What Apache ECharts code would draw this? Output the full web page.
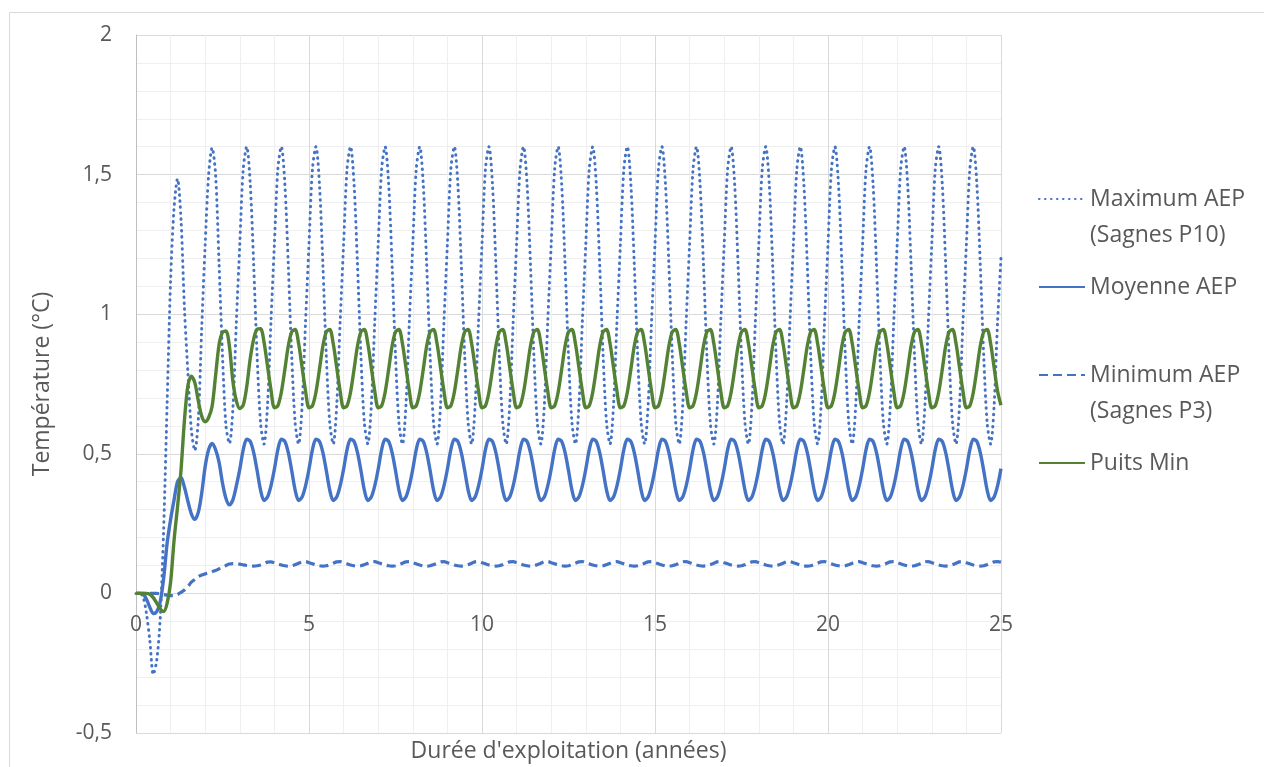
<!DOCTYPE html>
<html><head><meta charset="utf-8">
<script src="https://cdn.jsdelivr.net/npm/echarts@6/dist/echarts.min.js"></script>
<style>html,body{margin:0;padding:0;background:#fff}#c{width:1264px;height:767px}</style>
</head><body><div id="c"></div>
<script>
// Time (years), sampled every 0.1 year
const years = [
0,0.1,0.2,0.3,0.4,0.5,0.6,0.7,0.8,0.9,
1,1.1,1.2,1.3,1.4,1.5,1.6,1.7,1.8,1.9,
2,2.1,2.2,2.3,2.4,2.5,2.6,2.7,2.8,2.9,
3,3.1,3.2,3.3,3.4,3.5,3.6,3.7,3.8,3.9,
4,4.1,4.2,4.3,4.4,4.5,4.6,4.7,4.8,4.9,
5,5.1,5.2,5.3,5.4,5.5,5.6,5.7,5.8,5.9,
6,6.1,6.2,6.3,6.4,6.5,6.6,6.7,6.8,6.9,
7,7.1,7.2,7.3,7.4,7.5,7.6,7.7,7.8,7.9,
8,8.1,8.2,8.3,8.4,8.5,8.6,8.7,8.8,8.9,
9,9.1,9.2,9.3,9.4,9.5,9.6,9.7,9.8,9.9,
10,10.1,10.2,10.3,10.4,10.5,10.6,10.7,10.8,10.9,
11,11.1,11.2,11.3,11.4,11.5,11.6,11.7,11.8,11.9,
12,12.1,12.2,12.3,12.4,12.5,12.6,12.7,12.8,12.9,
13,13.1,13.2,13.3,13.4,13.5,13.6,13.7,13.8,13.9,
14,14.1,14.2,14.3,14.4,14.5,14.6,14.7,14.8,14.9,
15,15.1,15.2,15.3,15.4,15.5,15.6,15.7,15.8,15.9,
16,16.1,16.2,16.3,16.4,16.5,16.6,16.7,16.8,16.9,
17,17.1,17.2,17.3,17.4,17.5,17.6,17.7,17.8,17.9,
18,18.1,18.2,18.3,18.4,18.5,18.6,18.7,18.8,18.9,
19,19.1,19.2,19.3,19.4,19.5,19.6,19.7,19.8,19.9,
20,20.1,20.2,20.3,20.4,20.5,20.6,20.7,20.8,20.9,
21,21.1,21.2,21.3,21.4,21.5,21.6,21.7,21.8,21.9,
22,22.1,22.2,22.3,22.4,22.5,22.6,22.7,22.8,22.9,
23,23.1,23.2,23.3,23.4,23.5,23.6,23.7,23.8,23.9,
24,24.1,24.2,24.3,24.4,24.5,24.6,24.7,24.8,24.9,
25];

// Maximum AEP (Sagnes P10)
const maxAEP = [
0,0,-0.01,-0.07,-0.17,-0.29,-0.24,-0.09,0.23,0.68,
1.12,1.38,1.485,1.34,1.02,0.79,0.585,0.512,0.62,0.95,
1.25,1.5,1.596,1.5,1.18,0.85,0.6,0.537,0.66,0.97,
1.25,1.52,1.6,1.47,1.18,0.85,0.61,0.535,0.67,0.97,
1.25,1.52,1.6,1.47,1.18,0.85,0.61,0.535,0.67,0.97,
1.25,1.52,1.6,1.47,1.18,0.85,0.61,0.535,0.67,0.97,
1.25,1.52,1.6,1.47,1.18,0.85,0.61,0.535,0.67,0.97,
1.25,1.52,1.6,1.47,1.18,0.85,0.61,0.535,0.67,0.97,
1.25,1.52,1.6,1.47,1.18,0.85,0.61,0.535,0.67,0.97,
1.25,1.52,1.6,1.47,1.18,0.85,0.61,0.535,0.67,0.97,
1.25,1.52,1.6,1.47,1.18,0.85,0.61,0.535,0.67,0.97,
1.25,1.52,1.6,1.47,1.18,0.85,0.61,0.535,0.67,0.97,
1.25,1.52,1.6,1.47,1.18,0.85,0.61,0.535,0.67,0.97,
1.25,1.52,1.6,1.47,1.18,0.85,0.61,0.535,0.67,0.97,
1.25,1.52,1.6,1.47,1.18,0.85,0.61,0.535,0.67,0.97,
1.25,1.52,1.6,1.47,1.18,0.85,0.61,0.535,0.67,0.97,
1.25,1.52,1.6,1.47,1.18,0.85,0.61,0.535,0.67,0.97,
1.25,1.52,1.6,1.47,1.18,0.85,0.61,0.535,0.67,0.97,
1.25,1.52,1.6,1.47,1.18,0.85,0.61,0.535,0.67,0.97,
1.25,1.52,1.6,1.47,1.18,0.85,0.61,0.535,0.67,0.97,
1.25,1.52,1.6,1.47,1.18,0.85,0.61,0.535,0.67,0.97,
1.25,1.52,1.6,1.47,1.18,0.85,0.61,0.535,0.67,0.97,
1.25,1.52,1.6,1.47,1.18,0.85,0.61,0.535,0.67,0.97,
1.25,1.52,1.6,1.47,1.18,0.85,0.61,0.535,0.67,0.97,
1.25,1.52,1.6,1.47,1.18,0.85,0.61,0.535,0.67,0.97,
1.2];

// Moyenne AEP
const moyAEP = [
0,0,-0.002,-0.02,-0.05,-0.072,-0.065,-0.03,0.055,0.18,
0.265,0.335,0.4,0.415,0.38,0.33,0.285,0.265,0.29,0.36,
0.455,0.515,0.537,0.515,0.47,0.395,0.34,0.317,0.335,0.385,
0.445,0.515,0.552,0.545,0.505,0.44,0.37,0.333,0.345,0.385,
0.445,0.515,0.552,0.545,0.505,0.44,0.37,0.333,0.345,0.385,
0.445,0.515,0.552,0.545,0.505,0.44,0.37,0.333,0.345,0.385,
0.445,0.515,0.552,0.545,0.505,0.44,0.37,0.333,0.345,0.385,
0.445,0.515,0.552,0.545,0.505,0.44,0.37,0.333,0.345,0.385,
0.445,0.515,0.552,0.545,0.505,0.44,0.37,0.333,0.345,0.385,
0.445,0.515,0.552,0.545,0.505,0.44,0.37,0.333,0.345,0.385,
0.445,0.515,0.552,0.545,0.505,0.44,0.37,0.333,0.345,0.385,
0.445,0.515,0.552,0.545,0.505,0.44,0.37,0.333,0.345,0.385,
0.445,0.515,0.552,0.545,0.505,0.44,0.37,0.333,0.345,0.385,
0.445,0.515,0.552,0.545,0.505,0.44,0.37,0.333,0.345,0.385,
0.445,0.515,0.552,0.545,0.505,0.44,0.37,0.333,0.345,0.385,
0.445,0.515,0.552,0.545,0.505,0.44,0.37,0.333,0.345,0.385,
0.445,0.515,0.552,0.545,0.505,0.44,0.37,0.333,0.345,0.385,
0.445,0.515,0.552,0.545,0.505,0.44,0.37,0.333,0.345,0.385,
0.445,0.515,0.552,0.545,0.505,0.44,0.37,0.333,0.345,0.385,
0.445,0.515,0.552,0.545,0.505,0.44,0.37,0.333,0.345,0.385,
0.445,0.515,0.552,0.545,0.505,0.44,0.37,0.333,0.345,0.385,
0.445,0.515,0.552,0.545,0.505,0.44,0.37,0.333,0.345,0.385,
0.445,0.515,0.552,0.545,0.505,0.44,0.37,0.333,0.345,0.385,
0.445,0.515,0.552,0.545,0.505,0.44,0.37,0.333,0.345,0.385,
0.445,0.515,0.552,0.545,0.505,0.44,0.37,0.333,0.345,0.385,
0.447];

// Minimum AEP (Sagnes P3)
const minAEP = [
0,0,0,0,0,0,0,-0.002,-0.004,-0.006,
-0.008,-0.008,-0.004,0.004,0.012,0.025,0.04,0.05,0.06,0.066,
0.07,0.074,0.078,0.082,0.088,0.095,0.1,0.105,0.107,0.107,
0.105,0.102,0.1,0.099,0.098,0.099,0.102,0.107,0.112,0.113,
0.11,0.106,0.102,0.099,0.098,0.099,0.103,0.108,0.113,0.114,
0.11,0.106,0.102,0.099,0.098,0.099,0.103,0.108,0.113,0.114,
0.11,0.106,0.102,0.099,0.098,0.099,0.103,0.108,0.113,0.114,
0.11,0.106,0.102,0.099,0.098,0.099,0.103,0.108,0.113,0.114,
0.11,0.106,0.102,0.099,0.098,0.099,0.103,0.108,0.113,0.114,
0.11,0.106,0.102,0.099,0.098,0.099,0.103,0.108,0.113,0.114,
0.11,0.106,0.102,0.099,0.098,0.099,0.103,0.108,0.113,0.114,
0.11,0.106,0.102,0.099,0.098,0.099,0.103,0.108,0.113,0.114,
0.11,0.106,0.102,0.099,0.098,0.099,0.103,0.108,0.113,0.114,
0.11,0.106,0.102,0.099,0.098,0.099,0.103,0.108,0.113,0.114,
0.11,0.106,0.102,0.099,0.098,0.099,0.103,0.108,0.113,0.114,
0.11,0.106,0.102,0.099,0.098,0.099,0.103,0.108,0.113,0.114,
0.11,0.106,0.102,0.099,0.098,0.099,0.103,0.108,0.113,0.114,
0.11,0.106,0.102,0.099,0.098,0.099,0.103,0.108,0.113,0.114,
0.11,0.106,0.102,0.099,0.098,0.099,0.103,0.108,0.113,0.114,
0.11,0.106,0.102,0.099,0.098,0.099,0.103,0.108,0.113,0.114,
0.11,0.106,0.102,0.099,0.098,0.099,0.103,0.108,0.113,0.114,
0.11,0.106,0.102,0.099,0.098,0.099,0.103,0.108,0.113,0.114,
0.11,0.106,0.102,0.099,0.098,0.099,0.103,0.108,0.113,0.114,
0.11,0.106,0.102,0.099,0.098,0.099,0.103,0.108,0.113,0.114,
0.11,0.106,0.102,0.099,0.098,0.099,0.103,0.108,0.113,0.114,
0.112];

// Puits Min
const puitsMin = [
0,0,0,0,-0.003,-0.015,-0.035,-0.055,-0.065,-0.035,
0.04,0.19,0.31,0.44,0.62,0.745,0.778,0.755,0.69,0.635,
0.615,0.63,0.67,0.78,0.89,0.935,0.94,0.885,0.76,0.69,
0.662,0.675,0.74,0.84,0.91,0.946,0.948,0.9,0.815,0.73,
0.665,0.672,0.72,0.8,0.885,0.937,0.945,0.895,0.81,0.725,
0.665,0.672,0.72,0.8,0.885,0.937,0.945,0.895,0.81,0.725,
0.665,0.672,0.72,0.8,0.885,0.937,0.945,0.895,0.81,0.725,
0.665,0.672,0.72,0.8,0.885,0.937,0.945,0.895,0.81,0.725,
0.665,0.672,0.72,0.8,0.885,0.937,0.945,0.895,0.81,0.725,
0.665,0.672,0.72,0.8,0.885,0.937,0.945,0.895,0.81,0.725,
0.665,0.672,0.72,0.8,0.885,0.937,0.945,0.895,0.81,0.725,
0.665,0.672,0.72,0.8,0.885,0.937,0.945,0.895,0.81,0.725,
0.665,0.672,0.72,0.8,0.885,0.937,0.945,0.895,0.81,0.725,
0.665,0.672,0.72,0.8,0.885,0.937,0.945,0.895,0.81,0.725,
0.665,0.672,0.72,0.8,0.885,0.937,0.945,0.895,0.81,0.725,
0.665,0.672,0.72,0.8,0.885,0.937,0.945,0.895,0.81,0.725,
0.665,0.672,0.72,0.8,0.885,0.937,0.945,0.895,0.81,0.725,
0.665,0.672,0.72,0.8,0.885,0.937,0.945,0.895,0.81,0.725,
0.665,0.672,0.72,0.8,0.885,0.937,0.945,0.895,0.81,0.725,
0.665,0.672,0.72,0.8,0.885,0.937,0.945,0.895,0.81,0.725,
0.665,0.672,0.72,0.8,0.885,0.937,0.945,0.895,0.81,0.725,
0.665,0.672,0.72,0.8,0.885,0.937,0.945,0.895,0.81,0.725,
0.665,0.672,0.72,0.8,0.885,0.937,0.945,0.895,0.81,0.725,
0.665,0.672,0.72,0.8,0.885,0.937,0.945,0.895,0.81,0.725,
0.665,0.672,0.72,0.8,0.885,0.937,0.945,0.895,0.81,0.725,
0.674];

const seriesNames = ['Maximum AEP\n(Sagnes P10)', 'Moyenne AEP', 'Minimum AEP\n(Sagnes P3)', 'Puits Min'];
const xTitle = "Durée d'exploitation (années)";
const yTitle = 'Température (°C)';

const FONT = 'Open Sans';
const TXT = '#595959';
const BLUE = '#4472C4';
const GREEN = '#548235';

function pairs(ys) { return years.map((x, i) => [x, ys[i]]); }

const chart = echarts.init(document.getElementById('c'), null, { renderer: 'canvas' });
chart.setOption({
  animation: false,
  backgroundColor: '#fff',
  textStyle: { fontFamily: FONT },
  graphic: [{
    type: 'rect', silent: true, z: -10,
    shape: { x: 9.5, y: 12.5, width: 1400, height: 900 },
    style: { fill: null, stroke: '#d9d9d9', lineWidth: 1 }
  }],
  grid: { left: 136, right: 263, top: 35, bottom: 34, containLabel: false, outerBoundsMode: 'none' },
  legend: {
    orient: 'vertical', left: 1038, top: 145, padding: 0, itemGap: 16,
    itemWidth: 46, itemHeight: 2,
    itemStyle: { opacity: 0 },
    textStyle: { fontFamily: FONT, fontSize: 23, color: TXT, lineHeight: 36 },
    // two-line names: a blank first line keeps the icon level with the first text line
    formatter: name => name.indexOf('\n') >= 0 ? ' \n' + name : name,
    data: seriesNames
  },
  xAxis: {
    type: 'value', min: 0, max: 25, interval: 5,
    name: xTitle, nameLocation: 'middle', nameGap: 7,
    nameTextStyle: { fontFamily: FONT, fontSize: 23, color: TXT },
    axisLine: { show: false, onZero: false },
    axisTick: { show: false },
    axisLabel: { fontFamily: FONT, fontSize: 21, color: TXT, margin: -118 },
    splitLine: { show: true, lineStyle: { color: '#d9d9d9', width: 1 } },
    minorTick: { show: false, splitNumber: 5 },
    minorSplitLine: { show: true, lineStyle: { color: '#efefef', width: 1 } }
  },
  yAxis: {
    type: 'value', min: -0.5, max: 2, interval: 0.5,
    name: yTitle, nameLocation: 'middle', nameGap: 82, nameRotate: 90,
    nameTextStyle: { fontFamily: FONT, fontSize: 23, color: TXT },
    axisLine: { show: true, onZero: false, lineStyle: { color: '#bfbfbf', width: 1 } },
    axisTick: { show: false },
    axisLabel: { fontFamily: FONT, fontSize: 21, color: TXT, margin: 24,
      formatter: v => String(v).replace('.', ',') },
    splitLine: { show: true, lineStyle: { color: '#d9d9d9', width: 1 } },
    minorTick: { show: false, splitNumber: 5 },
    minorSplitLine: { show: true, lineStyle: { color: '#efefef', width: 1 } }
  },
  series: [
    { name: seriesNames[0], type: 'line', data: pairs(maxAEP), symbol: 'none', smooth: 0.3,
      itemStyle: { color: BLUE },
      lineStyle: { color: BLUE, width: 3, type: [0.5, 5.5], cap: 'round' } },
    { name: seriesNames[1], type: 'line', data: pairs(moyAEP), symbol: 'none', smooth: 0.3,
      itemStyle: { color: BLUE },
      lineStyle: { color: BLUE, width: 3.4, type: 'solid' } },
    { name: seriesNames[2], type: 'line', data: pairs(minAEP), symbol: 'none', smooth: 0.3,
      itemStyle: { color: BLUE },
      lineStyle: { color: BLUE, width: 3.2, type: [9, 5] } },
    { name: seriesNames[3], type: 'line', data: pairs(puitsMin), symbol: 'none', smooth: 0.3,
      itemStyle: { color: GREEN },
      lineStyle: { color: GREEN, width: 3.4, type: 'solid' } }
  ]
});
</script>
</body></html>
